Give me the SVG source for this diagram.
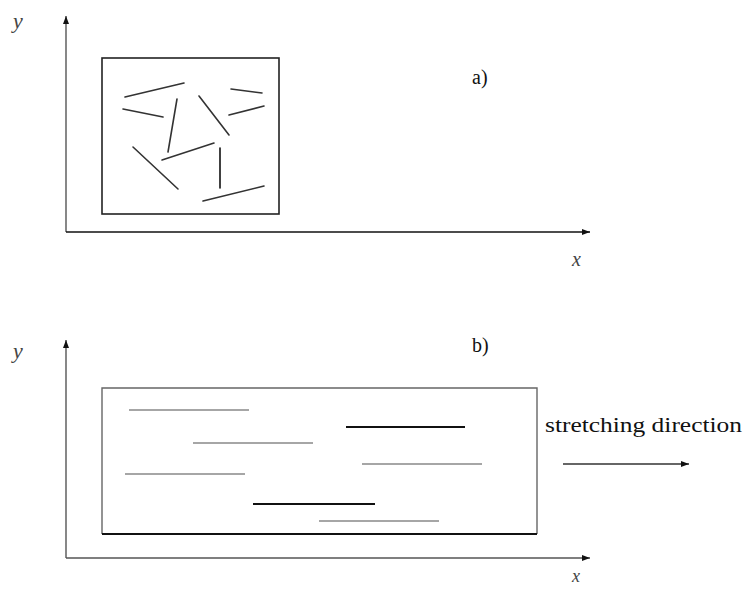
<svg xmlns="http://www.w3.org/2000/svg" width="748" height="589" viewBox="0 0 748 589">
<style>
.ax{stroke:#555;stroke-width:1.4;fill:none}
.box{stroke:#222;stroke-width:1.6;fill:none}
.f{stroke:#333;stroke-width:1.6;stroke-linecap:round}
.g{stroke:#888;stroke-width:1.6}
.d{stroke:#111;stroke-width:2}
text{font-family:"Liberation Serif","DejaVu Serif","Times New Roman",serif}
.lbl{fill:#111}
.it{font-style:italic;fill:#444}
</style>
<defs>
<marker id="ah" markerWidth="8" markerHeight="6" refX="8" refY="3" orient="auto" markerUnits="userSpaceOnUse">
<path d="M0,0 L8,3 L0,6 Z" fill="#111"/>
</marker>
</defs>
<rect width="748" height="589" fill="#fff"/>
<g id="panel-a">
<g id="axes-a">
<line class="ax" x1="66" y1="232" x2="66" y2="16" marker-end="url(#ah)"/>
<line class="ax" x1="66" y1="232" x2="590" y2="232" marker-end="url(#ah)" style="stroke:#111"/>
</g>
<text class="it" x="13" y="28" font-size="22">y</text>
<text class="it" x="572" y="266" font-size="20">x</text>
<text class="lbl" x="472" y="84" font-size="20">a)</text>
<rect id="box-a" class="box" x="102" y="58" width="177" height="156"/>
<g id="fibres-a">
<line class="f" x1="125" y1="97" x2="184" y2="83"/>
<line class="f" x1="231" y1="89" x2="262" y2="93"/>
<line class="f" x1="123" y1="109" x2="163" y2="117"/>
<line class="f" x1="177" y1="99" x2="168" y2="152"/>
<line class="f" x1="199" y1="96" x2="229" y2="135"/>
<line class="f" x1="229" y1="115" x2="264" y2="106"/>
<line class="f" x1="133" y1="147" x2="178" y2="189"/>
<line class="f" x1="162" y1="160" x2="214" y2="143"/>
<line class="f" x1="220" y1="148" x2="220" y2="188" style="stroke:#111"/>
<line class="f" x1="203" y1="201" x2="264" y2="186"/>
</g>
</g>
<g id="panel-b">
<g id="axes-b">
<line class="ax" x1="66" y1="558" x2="66" y2="340" marker-end="url(#ah)"/>
<line class="ax" x1="66" y1="558" x2="590" y2="558" marker-end="url(#ah)"/>
</g>
<text class="it" x="13" y="358" font-size="22">y</text>
<text class="it" x="572" y="582" font-size="18">x</text>
<text class="lbl" x="472" y="352" font-size="20">b)</text>
<g id="box-b">
<path d="M102,534 L102,388 L537,388 L537,534" style="stroke:#666;stroke-width:1.4;fill:none"/>
<line x1="102" y1="534" x2="537" y2="534" style="stroke:#111;stroke-width:2"/>
</g>
<g id="fibres-b">
<line class="g" x1="129" y1="410" x2="249" y2="410"/>
<line class="d" x1="346" y1="427" x2="465" y2="427"/>
<line class="g" x1="193" y1="443" x2="313" y2="443"/>
<line class="g" x1="362" y1="464" x2="482" y2="464"/>
<line class="g" x1="125" y1="474" x2="245" y2="474"/>
<line class="d" x1="253" y1="504" x2="375" y2="504"/>
<line class="g" x1="319" y1="521" x2="439" y2="521"/>
</g>
<g id="stretch">
<text class="lbl" x="545" y="432" font-size="21" textLength="197" lengthAdjust="spacingAndGlyphs">stretching direction</text>
<line x1="563" y1="464" x2="689" y2="464" style="stroke:#333;stroke-width:1.3" marker-end="url(#ah)"/>
</g>
</g>
</svg>
